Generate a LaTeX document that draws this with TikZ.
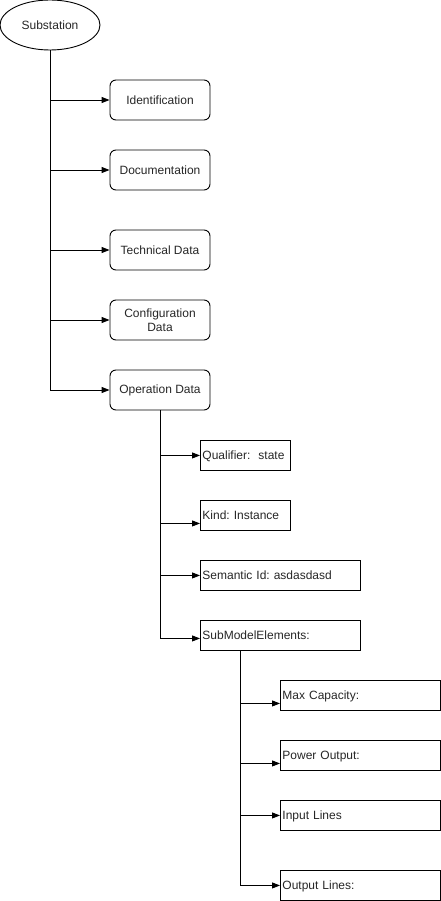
\documentclass[tikz,border=0pt]{standalone}
\usepackage{fontspec}
\setmainfont{Liberation Sans}
\usetikzlibrary{arrows.meta,shapes.geometric}
\frenchspacing
\begin{document}
\begin{tikzpicture}[x=1pt,y=-1pt,
  every node/.style={font=\fontsize{12}{14}\selectfont, text=black!85},
  roundbox/.style={draw, line width=0.9pt, rounded corners=6pt, minimum width=100pt, minimum height=40pt, align=center, inner sep=0pt},
  leafbox/.style={draw, line width=0.9pt, minimum height=30pt, anchor=north west, inner sep=0pt, text width=#1-2pt, align=left, minimum width=#1, text depth=0pt},
  link/.style={line width=0.9pt, -{Triangle[length=8pt,width=6pt]}}]
\useasboundingbox (0,0) rectangle (441,901);

% root of the tree
\node[draw, ellipse, line width=0.9pt, minimum width=100pt, minimum height=50pt, inner sep=0pt] (root) at (50,25) {Substation};

% first level
\node[roundbox] (ident) at (160,100) {Identification};
\node[roundbox] (docu)  at (160,170) {Documentation};
\node[roundbox] (tech)  at (160,250) {Technical Data};
\node[roundbox] (conf)  at (160,320) {Configuration\\Data};
\node[roundbox] (oper)  at (160,390) {Operation Data};

% operation data attributes
\node[leafbox=90pt]  (qual) at (200,440) {\hspace*{1pt}Qualifier:\ \ state};
\node[leafbox=90pt]  (kind) at (200,500) {\hspace*{1pt}Kind: Instance};
\node[leafbox=160pt] (sem)  at (200,560) {\hspace*{1pt}Semantic Id: asdasdasd};
\node[leafbox=160pt] (sme)  at (200,620) {\hspace*{1pt}SubModelElements:};

% submodel elements
\node[leafbox=160pt] (maxc) at (280,680) {\hspace*{1pt}Max Capacity:};
\node[leafbox=160pt] (pout) at (280,740) {\hspace*{1pt}Power Output:};
\node[leafbox=160pt] (inl)  at (280,800) {\hspace*{1pt}Input Lines};
\node[leafbox=160pt] (outl) at (280,870) {\hspace*{1pt}Output Lines:};

% connectors: root to first level
\foreach \t in {ident,docu,tech,conf,oper}
  \draw[link] (root.south) |- (\t.west);

% connectors: operation data to its attributes
\draw[link] (oper.south) |- (qual.west);
\draw[link] (oper.south) |- ([yshift=-8pt]kind.west);
\draw[link] (oper.south) |- (sem.west);
\draw[link] (oper.south) |- ([yshift=-3pt]sme.west);

% connectors: submodel elements to its entries
\coordinate (smefoot) at ([xshift=-40pt]sme.south);
\draw[link] (smefoot) |- ([yshift=-8pt]maxc.west);
\draw[link] (smefoot) |- ([yshift=-8pt]pout.west);
\draw[link] (smefoot) |- (inl.west);
\draw[link] (smefoot) |- (outl.west);
\end{tikzpicture}
\end{document}
